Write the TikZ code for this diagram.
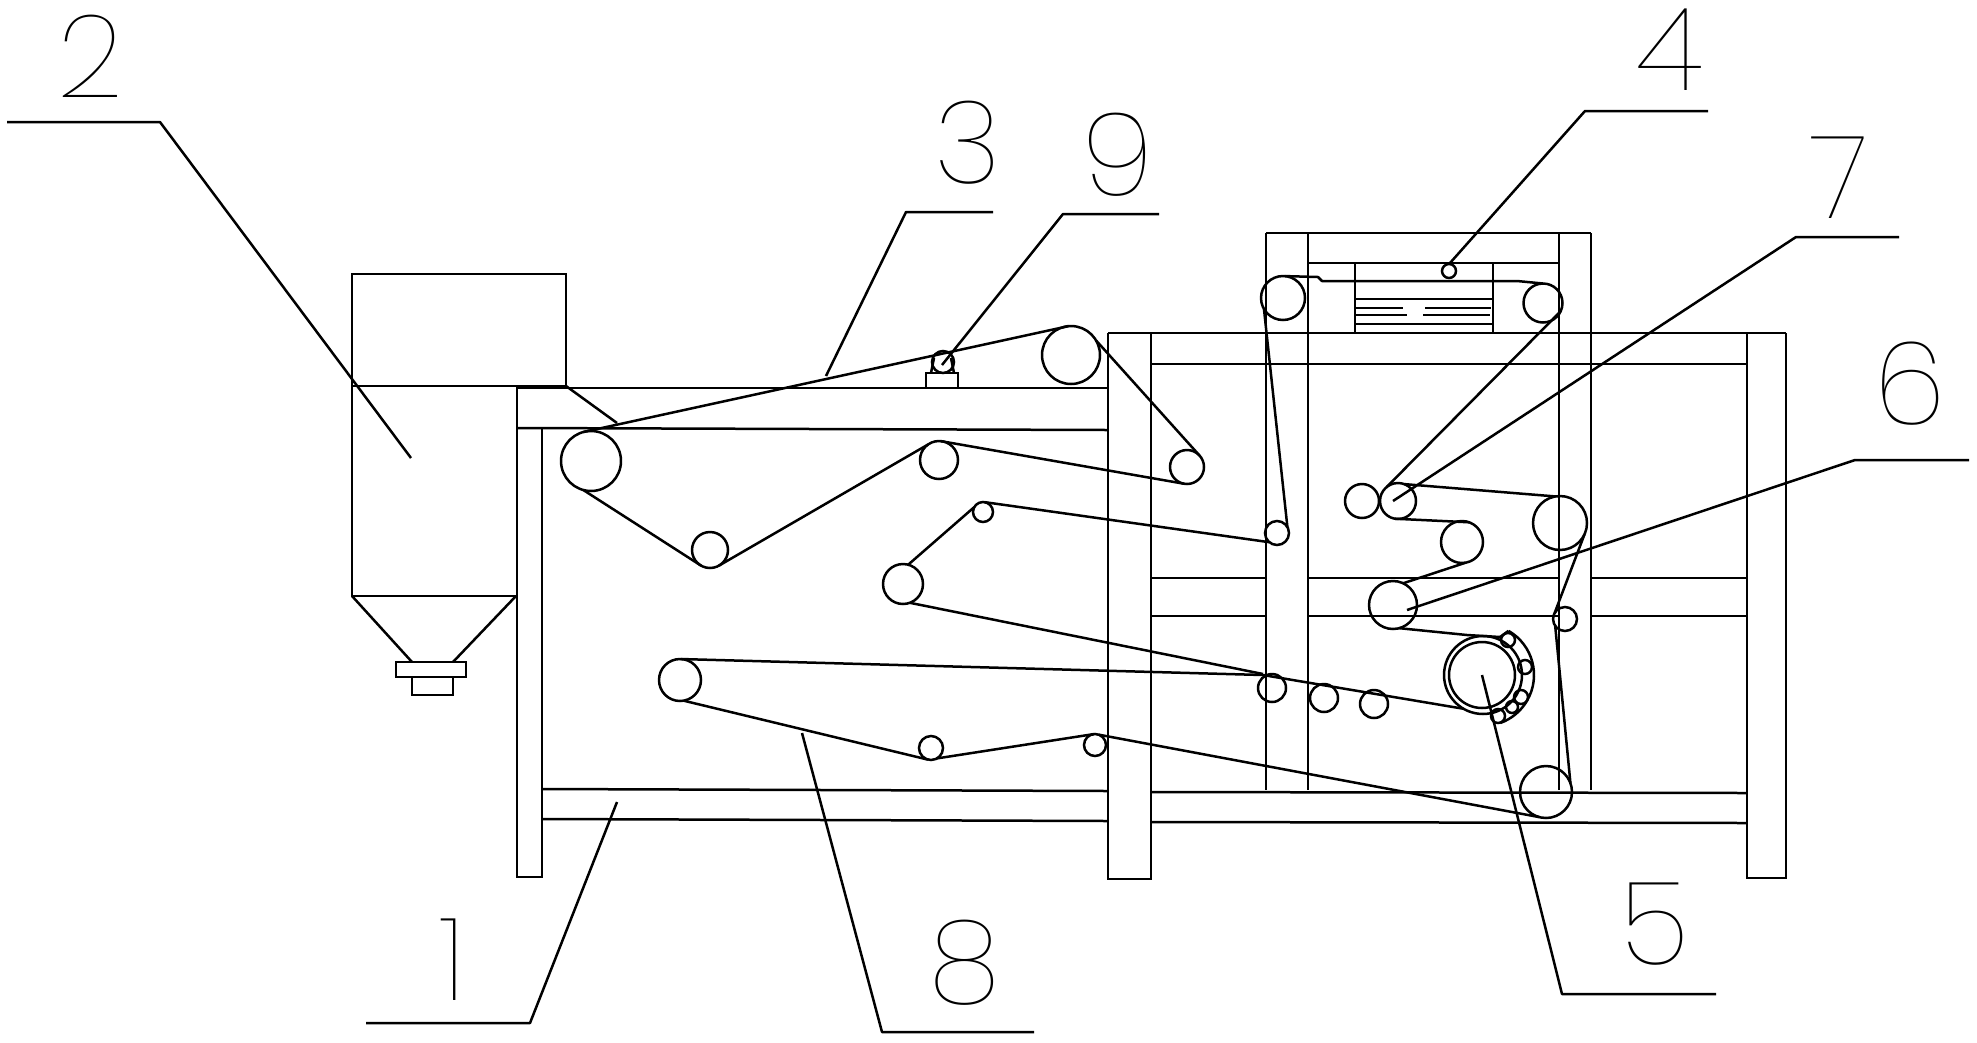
\documentclass[tikz,border=0pt]{standalone}
\usepackage{fontspec}
\newfontfamily\digitfont{Poppins Thin}
\tikzset{
    frameline/.style={line width=0.05cm},
    beltline/.style={line width=0.05cm, line join=round},
    leaderline/.style={line width=0.05cm, line join=round},
    roller/.style={circle, draw, line width=0.05cm, inner sep=0pt, outer sep=0pt},
    numlabel/.style={inner sep=0pt, font=\digitfont\fontsize{66}{66}\selectfont}
}
\begin{document}
\begin{tikzpicture}[x=0.02cm, y=-0.02cm]
        \useasboundingbox (0,0) rectangle (1977,1042);

        % hopper
        \draw[frameline] (352,274) rectangle (566,386);
        \draw[frameline] (352,386) -- (352,596) -- (517,596);
        \draw[frameline] (352,596) -- (412,662);
        \draw[frameline] (516,596) -- (453,662);
        \draw[frameline] (396,662) rectangle (466,677);
        \draw[frameline] (412,677) rectangle (453,695);
        \draw[frameline] (566,386) -- (617,423);

        % posts
        \draw[frameline] (517,386) -- (517,877) -- (542,877) -- (542,428);
        \draw[frameline] (1108,333) -- (1108,879) -- (1151,879) -- (1151,333);
        \draw[frameline] (1747,333) -- (1747,878) -- (1786,878) -- (1786,333);
        \draw[frameline] (1266,233) -- (1266,790);
        \draw[frameline] (1308,233) -- (1308,790);
        \draw[frameline] (1559,233) -- (1559,790);
        \draw[frameline] (1591,233) -- (1591,790);

        % beams
        \draw[frameline] (517,388) -- (1108,388);
        \draw[frameline] (517,428) -- (1108,430);
        \draw[frameline] (1108,333) -- (1786,333);
        \draw[frameline] (1151,364) -- (1747,364);
        \draw[frameline] (1266,233) -- (1591,233);
        \draw[frameline] (1308,263) -- (1559,263);
        \draw[frameline] (542,789) -- (1108,791);
        \draw[frameline] (542,819) -- (1108,821);
        \draw[frameline] (1151,792) -- (1747,793);
        \draw[frameline] (1151,822) -- (1747,823);
        \foreach \yy in {578,616}{
            \draw[frameline] (1151,\yy) -- (1266,\yy);
            \draw[frameline] (1308,\yy) -- (1559,\yy);
            \draw[frameline] (1591,\yy) -- (1747,\yy);
        };

        % motor box
        \draw[frameline] (1355,263) -- (1355,333);
        \draw[frameline] (1493,263) -- (1493,333);
        \draw[frameline] (1355,299) -- (1493,299);
        \draw[frameline] (1355,324) -- (1493,324);
        \draw[frameline] (1356,308) -- (1403,308);
        \draw[frameline] (1425,308) -- (1491,308);
        \draw[frameline] (1356,315) -- (1407,315);
        \draw[frameline] (1423,315) -- (1490,315);

        % bearing stand
        \draw[frameline] (926,388) -- (926,373) -- (958,373) -- (958,388);
        \draw[frameline] (931,373) -- (934,358);
        \draw[frameline] (954,373) -- (951,358);

        % rollers
        \foreach \name/\cx/\cy/\rad in {
            feedroll/591/461/30, topbig/1071/355/29, bearing/943/362/11,
            turnA/1187/467/17, turnB/939/460/19, turnC/710/550/18,
            guideA/903/584/20, guideB/983/512/10, guideC/1277/533/12,
            motorL/1283/298/22, motorR/1543/303/19.5, motorS/1449/271/7,
            pressA/1362/501/17, pressB/1398/501/18, pressC/1462/542/21,
            pressD/1560/523/27, pressE/1393/605/24, pressF/1565/619/12,
            drum/1482/675/33, drumout/1483/675/39,
            nipA/1508/640/7, nipB/1525/667/7, nipC/1521/697/7, nipD/1512/707/6, nipE/1498/716/7,
            idleA/1272/688/14, idleB/1324/698/14, idleC/1374/704/14,
            tailA/680/680/21, tailB/931/748/12, tailC/1095/745/11, tailD/1546/792/26
        }{
            \node[roller, minimum size=0.04cm*\rad] (\name) at (\cx,\cy) {};
        };
        \node[circle, inner sep=0pt, outer sep=0pt, minimum size=2.04cm] (nipring) at (1483,675) {};

        % belts
        \draw[beltline] (feedroll.105) -- (topbig.95);
        \draw[beltline] (topbig.30) -- (turnA.43);
        \draw[beltline] (turnA.260) -- (turnB.85);
        \draw[beltline] (turnB.125) -- (turnC.300);
        \draw[beltline] (turnC.240) -- (feedroll.255);
        \draw[beltline] (guideA.75) -- (guideB.150);
        \draw[beltline] (guideB.80) -- (guideC.230);
        \draw[beltline] (guideC.30) -- (motorL.210);
        \draw[beltline] (motorL.85) -- (1318,277) -- (1322,281) -- (1517,281) -- (motorR.90);
        \draw[beltline] (motorR.335) -- (pressB.130);
        \draw[beltline] (pressB.70) -- (pressD.100);
        \draw[beltline] (pressB.260) -- (pressC.70);
        \draw[beltline] (pressC.280) -- (pressE.65);
        \draw[beltline] (pressE.285) -- (1467,635) -- (1500,637) -- (nipring.60);
        \draw[beltline] (nipring.60) arc[start angle=60, end angle=-70, radius=1.02cm];
        \draw[beltline] (tailA.88) -- (1263,675) -- (drumout.240);
        \draw[beltline] (guideA.290) -- (1263,674);
        \draw[beltline] (tailA.280) -- (tailB.255);
        \draw[beltline] (tailB.300) -- (tailC.95);
        \draw[beltline] (tailC.70) -- (tailD.255);
        \draw[beltline] (tailD.20) -- (pressF.215);
        \draw[beltline] (pressF.150) -- (pressD.335);

        % labels and their leaders
        \node[numlabel] (numA) at (453,960) {1};
        \node[numlabel] (numB) at (90,56) {2};
        \node[numlabel] (numC) at (968,143) {3};
        \node[numlabel] (numD) at (1670,50) {4};
        \node[numlabel] (numE) at (1655,924) {5};
        \node[numlabel] (numF) at (1910,384) {6};
        \node[numlabel] (numG) at (1840,178) {7};
        \node[numlabel] (numH) at (965,963) {8};
        \node[numlabel] (numI) at (1118,155) {9};

        \coordinate (tipA) at (617,802);
        \coordinate (tipB) at (411,458);
        \coordinate (tipC) at (826,376);
        \coordinate (tipD) at (1450,263);
        \coordinate (tipE) at (1482,675);
        \coordinate (tipF) at (1407,610);
        \coordinate (tipG) at (1393,501);
        \coordinate (tipH) at (802,733);
        \coordinate (tipI) at (942,365);

        \draw[leaderline] (tipA) -- (530,1023) -- (366,1023);
        \draw[leaderline] (tipB) -- (160,122) -- (7,122);
        \draw[leaderline] (tipC) -- (906,212) -- (993,212);
        \draw[leaderline] (tipD) -- (1585,111) -- (1708,111);
        \draw[leaderline] (tipE) -- (1562,994) -- (1716,994);
        \draw[leaderline] (tipF) -- (1855,460) -- (1969,460);
        \draw[leaderline] (tipG) -- (1796,237) -- (1899,237);
        \draw[leaderline] (tipH) -- (882,1032) -- (1034,1032);
        \draw[leaderline] (tipI) -- (1063,214) -- (1159,214);
    \end{tikzpicture}
\end{document}
